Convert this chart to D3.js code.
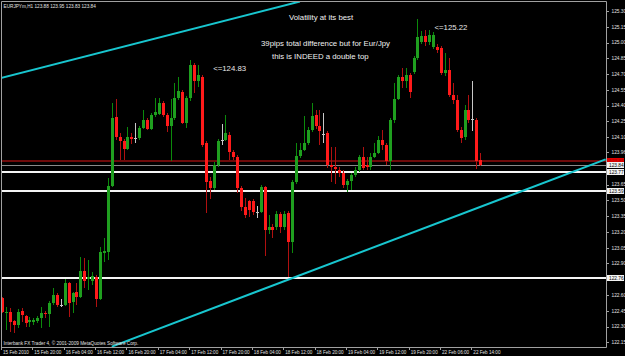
<!DOCTYPE html>
<html>
<head>
<meta charset="utf-8">
<script src="https://cdn.jsdelivr.net/npm/d3@7"></script>
<style>
body { margin: 0; background: #000; }
svg { display: block; }
text { font-family: "Liberation Sans", Arial, sans-serif; }
</style>
</head>
<body>
<svg id="chart" width="625" height="356"></svg>
<script>
// EURJPYm H1, one value per hourly bar (bar 0 = 15 Feb 2010 12:00)
const open = [122.57,122.43,122.44,122.35,122.32,122.45,122.40,122.34,122.34,122.35,
  122.38,122.43,122.42,122.52,122.60,122.51,122.51,122.71,122.53,122.63,
  122.58,122.83,122.75,122.73,122.77,122.56,123.00,123.01,123.64,124.29,
  124.10,124.06,123.99,124.10,124.09,124.09,124.19,124.26,124.18,124.31,
  124.32,124.43,124.31,124.21,124.28,124.47,124.53,124.24,124.47,124.79,
  124.63,124.67,124.05,123.68,123.62,123.84,124.07,124.07,124.12,123.96,
  123.91,123.62,123.44,123.49,123.49,123.39,123.39,123.63,123.22,123.25,
  123.25,123.37,123.25,123.38,123.10,123.67,123.92,123.98,124.05,124.17,
  124.31,124.21,124.13,124.14,123.84,123.82,123.79,123.76,123.65,123.68,
  123.74,123.79,123.91,123.84,123.82,123.91,123.95,124.07,124.03,123.87,
  124.26,124.46,124.67,124.63,124.69,124.72,124.85,125.01,125.06,125.01,
  124.96,124.96,124.95,124.71,124.74,124.50,124.45,124.17,124.10,124.36,
  124.27,124.26,123.88];
const high = [122.58,122.49,122.48,122.36,122.47,122.48,122.41,122.39,122.38,122.40,
  122.49,122.45,122.54,122.67,122.62,122.56,122.75,122.72,122.63,122.71,
  122.96,122.95,122.93,122.82,122.79,123.06,123.14,123.71,124.43,124.46,
  124.14,124.08,124.20,124.14,124.24,124.21,124.36,124.28,124.33,124.47,
  124.47,124.44,124.33,124.46,124.62,124.67,124.55,124.49,124.83,124.81,
  124.79,124.69,124.06,123.72,123.86,124.08,124.23,124.31,124.15,123.98,
  123.93,123.64,123.52,123.50,123.51,123.45,123.65,123.64,123.36,123.28,
  123.40,123.39,123.40,123.40,123.69,124.05,124.05,124.30,124.20,124.43,
  124.36,124.36,124.33,124.16,124.01,124.01,123.82,123.79,123.70,123.76,
  123.82,123.93,124.01,123.91,123.95,124.05,124.11,124.17,124.05,124.28,
  124.62,124.69,124.76,124.76,124.71,124.87,125.22,125.11,125.12,125.12,
  125.10,124.99,124.97,124.90,124.85,124.62,124.50,124.20,124.41,124.50,
  124.63,124.28,123.95];
const low = [122.43,122.27,122.25,122.24,122.29,122.34,122.30,122.30,122.32,122.33,
  122.29,122.38,122.30,122.51,122.49,122.49,122.50,122.39,122.43,122.51,
  122.57,122.67,122.65,122.70,122.49,122.55,122.91,122.93,123.63,124.07,
  123.88,123.88,123.98,124.04,124.05,124.07,124.18,124.17,124.17,124.29,
  124.31,124.29,124.15,123.87,124.26,124.45,124.23,124.19,124.44,124.52,
  124.58,124.01,123.38,123.51,123.60,123.82,124.03,124.06,123.88,123.88,
  123.57,123.40,123.33,123.34,123.36,123.33,123.38,122.97,123.18,123.14,
  123.22,123.19,123.22,122.77,123.00,123.66,123.90,123.97,124.03,124.15,
  124.18,124.03,124.05,123.81,123.67,123.66,123.72,123.62,123.58,123.60,
  123.72,123.77,123.79,123.79,123.79,123.90,123.94,123.98,123.84,123.79,
  124.24,124.45,124.57,124.57,124.47,124.70,124.83,124.99,124.97,124.98,
  124.94,124.90,124.69,124.68,124.48,124.42,124.15,124.05,124.07,124.24,
  124.16,123.80,123.83];
const close = [122.44,122.44,122.34,122.32,122.44,122.41,122.33,122.36,122.36,122.38,
  122.43,122.42,122.52,122.60,122.51,122.51,122.71,122.52,122.62,122.58,
  122.83,122.73,122.77,122.78,122.56,123.01,123.02,123.64,124.28,124.10,
  124.06,123.99,124.10,124.08,124.09,124.19,124.26,124.18,124.31,124.34,
  124.43,124.31,124.21,124.28,124.47,124.54,124.24,124.47,124.79,124.63,
  124.69,124.03,123.67,123.62,123.84,124.06,124.07,124.14,123.96,123.91,
  123.62,123.44,123.36,123.41,123.39,123.39,123.63,123.22,123.25,123.22,
  123.37,123.25,123.37,123.10,123.67,123.92,123.98,124.05,124.17,124.30,
  124.21,124.16,124.13,123.84,123.82,123.80,123.76,123.65,123.68,123.74,
  123.79,123.91,123.81,123.82,123.91,123.95,124.07,124.03,123.87,124.26,
  124.46,124.67,124.63,124.69,124.53,124.85,125.05,125.06,125.01,125.07,
  125.07,124.93,124.71,124.74,124.50,124.45,124.17,124.09,124.36,124.26,
  124.27,123.87,123.84];

const timeLabelBars = [0, 8, 16, 24, 32, 40, 48, 56, 64, 72, 80, 88, 96, 104, 112, 120];
const timeLabels = ["15 Feb 2010", "15 Feb 20:00", "16 Feb 04:00", "16 Feb 12:00", "16 Feb 20:00",
  "17 Feb 04:00", "17 Feb 12:00", "17 Feb 20:00", "18 Feb 04:00", "18 Feb 12:00", "18 Feb 20:00",
  "19 Feb 04:00", "19 Feb 12:00", "19 Feb 20:00", "22 Feb 06:00", "22 Feb 14:00"];
const priceTicks = [125.30, 125.15, 125.00, 124.85, 124.70, 124.55, 124.40, 124.25, 124.10, 123.96,
  123.65, 123.50, 123.35, 123.20, 123.05, 122.90, 122.60, 122.45, 122.30, 122.15];

const levels = [123.77, 123.59, 122.76];
const askPrice = 123.87;
const bidPrice = 123.84;
// trend lines as [bar, price] pairs
const upperTrend = [[-0.5, 124.66], [76, 125.39]];
const lowerTrend = [[28, 122.11], [154, 123.89]];
const peakBars = [48, 106];
const peakPrices = [124.83, 125.22];
const notes = ["Volatility at its best", "39pips total difference but for Eur/Jpy", "this is INDEED a double top"];

const svg = d3.select("#chart");
const plot = {left: 2, top: 2, right: 606, bottom: 347};
const x = d3.scaleLinear().domain([0, 122]).range([2, 480.2]);
const y = d3.scaleLinear().domain([122.15, 125.30]).range([342.4, 11]);

svg.append("rect").attr("width", 625).attr("height", 356).attr("fill", "#000");

svg.append("clipPath").attr("id", "clip")
  .append("rect")
  .attr("x", plot.left).attr("y", plot.top)
  .attr("width", plot.right - plot.left).attr("height", plot.bottom - plot.top);

const g = svg.append("g").attr("clip-path", "url(#clip)");

// frame
svg.append("path")
  .attr("d", `M${plot.left - 0.5},${plot.bottom}V${plot.top - 0.5}H${plot.right + 0.5}V${plot.bottom + 0.5}H${plot.left - 0.5}`)
  .attr("fill", "none")
  .attr("stroke", "#a0a0a0");

// ask / bid lines
g.append("line")
  .attr("x1", plot.left).attr("x2", plot.right)
  .attr("y1", Math.round(y(askPrice))).attr("y2", Math.round(y(askPrice)))
  .attr("stroke", "#6e0a0a").attr("stroke-width", 2);
g.append("line")
  .attr("x1", plot.left).attr("x2", plot.right)
  .attr("y1", Math.round(y(bidPrice)) + 0.5).attr("y2", Math.round(y(bidPrice)) + 0.5)
  .attr("stroke", "#8a8a8a").attr("stroke-width", 1);

// horizontal levels
g.selectAll(".level")
  .data(levels)
  .join("line")
  .attr("class", "level")
  .attr("x1", plot.left).attr("x2", plot.right)
  .attr("y1", d => Math.round(y(d))).attr("y2", d => Math.round(y(d)))
  .attr("stroke", "#f4f4f4").attr("stroke-width", 2);

// candles
const bars = d3.range(open.length).map(i => ({i, o: open[i], h: high[i], l: low[i], c: close[i]}));
const kind = d => d.c > d.o ? "up" : d.c < d.o ? "down" : "flat";
const wickColor = {up: "#0b8a0b", down: "#b01010", flat: "#c8c8c8"};
const bodyColor = {up: "#1f9f1f", down: "#ff1a1a", flat: "#c8c8c8"};

g.selectAll(".wick")
  .data(bars)
  .join("line")
  .attr("class", "wick")
  .attr("x1", d => Math.round(x(d.i)) + 0.5)
  .attr("x2", d => Math.round(x(d.i)) + 0.5)
  .attr("y1", d => Math.round(y(d.h)))
  .attr("y2", d => Math.round(y(d.l)))
  .attr("stroke", d => wickColor[kind(d)]);

g.selectAll(".body")
  .data(bars)
  .join("rect")
  .attr("class", "body")
  .attr("x", d => Math.round(x(d.i)) - 1)
  .attr("y", d => Math.round(y(Math.max(d.o, d.c))))
  .attr("width", 3)
  .attr("height", d => Math.max(1, Math.round(y(Math.min(d.o, d.c))) - Math.round(y(Math.max(d.o, d.c)))))
  .attr("fill", d => bodyColor[kind(d)]);

// trend lines
const trend = d3.line().x(d => x(d[0])).y(d => y(d[1]));
g.selectAll(".trend")
  .data([upperTrend, lowerTrend])
  .join("path")
  .attr("class", "trend")
  .attr("d", trend)
  .attr("fill", "none")
  .attr("stroke", "#18c6cf")
  .attr("stroke-width", 2);

// peak annotations
g.selectAll(".peak")
  .data(peakBars)
  .join("text")
  .attr("class", "peak")
  .attr("x", (d, i) => x(d) + (i === 0 ? 23 : 17))
  .attr("y", (d, i) => y(peakPrices[i]) + 10.5)
  .attr("font-size", 7.8)
  .attr("fill", "#e8e8e8")
  .text((d, i) => "<=" + peakPrices[i].toFixed(2));

// comment text
const noteX = [289, 261, 272];
const noteY = [19.5, 46, 59];
g.selectAll(".note")
  .data(notes)
  .join("text")
  .attr("class", "note")
  .attr("x", (d, i) => noteX[i])
  .attr("y", (d, i) => noteY[i])
  .attr("font-size", 7.8)
  .attr("fill", "#f0f0f0")
  .text(d => d);

// header and footer
svg.append("text")
  .attr("x", 3.5).attr("y", 7.6)
  .attr("font-size", 4.7).attr("fill", "#e0e0e0")
  .text(`EURJPYm,H1  ${open[122].toFixed(2)} ${high[122].toFixed(2)} ${low[122].toFixed(2)} ${close[122].toFixed(2)}`);
svg.append("text")
  .attr("x", 3.5).attr("y", 344.8)
  .attr("font-size", 4.7).attr("fill", "#e0e0e0")
  .text("Interbank FX Trader 4, \u00a9 2001-2009 MetaQuotes Software Corp.");

// right price axis
const yAxis = svg.append("g").attr("class", "yaxis");
yAxis.selectAll("line")
  .data(priceTicks)
  .join("line")
  .attr("x1", plot.right).attr("x2", plot.right + 3)
  .attr("y1", d => Math.round(y(d)) + 0.5).attr("y2", d => Math.round(y(d)) + 0.5)
  .attr("stroke", "#a0a0a0");
yAxis.selectAll("text")
  .data(priceTicks)
  .join("text")
  .attr("x", plot.right + 5.5)
  .attr("y", d => y(d) + 1.8)
  .attr("font-size", 4.8)
  .attr("fill", "#e0e0e0")
  .text(d => d.toFixed(2));

// price boxes on the axis
const boxes = [{p: askPrice, fill: "#e00000", text: "#b00000"}, {p: bidPrice, fill: "#f0f0f0", text: "#000"}]
  .concat(levels.map(p => ({p, fill: "#f4f4f4", text: "#000"})));
const box = svg.append("g").selectAll("g")
  .data(boxes)
  .join("g")
  .attr("transform", d => `translate(${plot.right + 1},${Math.round(y(d.p))})`);
box.append("rect")
  .attr("x", 0).attr("y", -3).attr("width", 17).attr("height", 6)
  .attr("fill", d => d.fill);
box.append("text")
  .attr("x", 2).attr("y", 1.8)
  .attr("font-size", 4.8)
  .attr("fill", d => d.text)
  .text(d => d.p.toFixed(2));

// bottom time axis
const xAxis = svg.append("g").attr("class", "xaxis");
xAxis.selectAll("line")
  .data(timeLabelBars)
  .join("line")
  .attr("x1", d => Math.round(x(d)) - 0.5).attr("x2", d => Math.round(x(d)) - 0.5)
  .attr("y1", plot.bottom).attr("y2", plot.bottom + 3)
  .attr("stroke", "#a0a0a0");
xAxis.selectAll("text")
  .data(timeLabelBars)
  .join("text")
  .attr("x", d => x(d) + 1)
  .attr("y", 354.3)
  .attr("font-size", 4.6)
  .attr("fill", "#e0e0e0")
  .text((d, i) => timeLabels[i]);
</script>
</body>
</html>
